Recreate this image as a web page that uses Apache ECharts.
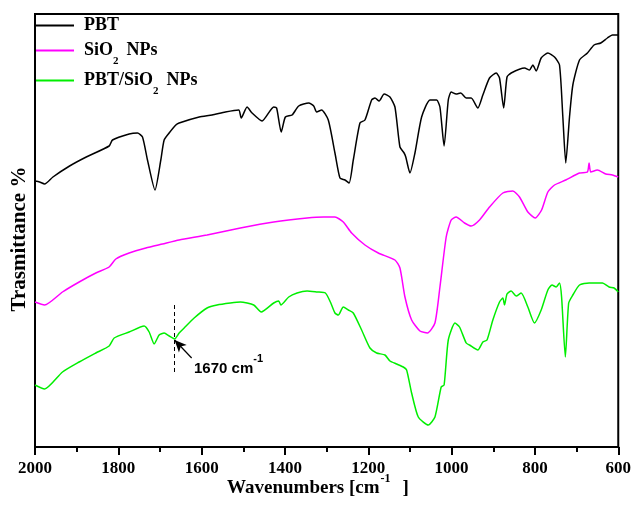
<!DOCTYPE html>
<html>
<head>
<meta charset="utf-8">
<script src="https://cdn.jsdelivr.net/npm/echarts@6/dist/echarts.min.js"></script>
<style>
html, body { margin: 0; padding: 0; background: #fff; }
#chart { width: 634px; height: 507px; }
</style>
</head>
<body>
<div id="chart"></div>
<script>
// FTIR spectra, transmittance in arbitrary units (offset curves)
const xTicks = [2000, 1800, 1600, 1400, 1200, 1000, 800, 600];

// PBT
const pbtWn = [2000,1989,1977,1957,1917,1877,1822,1814,1774,1754,1742,1730,1712,1698,1690,1678,1662,1654,1606,1575,1543,1511,1505,1491,1479,1455,1427,1420,1409,1399,1383,1367,1343,1331,1324,1312,1296,1280,1268,1256,1246,1236,1220,1208,1192,1184,1174,1162,1148,1136,1124,1114,1110,1100,1088,1072,1052,1036,1028,1018,1008,1001,989,978,965,953,937,925,909,893,885,875,867,857,825,813,805,797,785,769,753,741,733,726,717,709,693,674,658,642,626,614,600];
const pbtT = [266,265,263,270,281,290,301,307,313,314,310,287,257,287,307,314,322,324,330,332,335,337,329,340,334,326,340,339,315,330,332,341,344,341,335,337,327,294,269,267,264,287,324,327,347,349,346,353,350,340,300,294,290,274,294,330,347,347,340,301,347,355,353,354,349,349,339,352,369,374,369,339,370,374,379,377,382,376,389,394,390,382,330,284,330,362,387,394,402,404,409,412,412];

// SiO2 NPs
const sioWn = [2000,1977,1934,1894,1854,1822,1806,1774,1734,1694,1654,1587,1507,1427,1347,1307,1280,1260,1240,1208,1176,1136,1124,1112,1096,1076,1058,1040,1028,1013,1001,989,969,953,933,909,877,853,837,817,799,784,769,753,726,693,674,670,666,650,630,614,600];
const sioT = [145,142,155,165,174,180,188,194,199,203,207,212,219,225,229,230,230,225,214,202,194,187,179,150,127,116,114,124,160,210,227,230,224,221,227,240,254,256,250,235,229,237,255,262,267,274,275,284,275,277,273,272,270];

// PBT/SiO2 NPs
const mixWn = [2000,1977,1934,1894,1854,1822,1810,1774,1738,1726,1714,1702,1690,1678,1665,1654,1642,1618,1587,1563,1531,1507,1475,1457,1427,1415,1410,1391,1371,1347,1323,1303,1291,1280,1272,1260,1248,1236,1216,1196,1180,1160,1148,1132,1116,1108,1096,1080,1056,1040,1025,1018,1008,992,981,965,957,937,925,915,901,885,877,873,867,857,845,833,817,801,785,769,759,749,741,736,727,719,709,693,670,638,622,610,600];
const mixT = [62,58,75,85,94,101,109,115,121,115,103,112,114,111,108,114,119,129,139,142,144,145,142,135,144,146,142,150,154,156,155,154,145,134,132,140,137,134,117,99,94,92,86,83,80,77,54,30,22,30,60,62,107,124,120,104,102,97,105,107,127,145,149,142,153,156,151,154,140,124,137,157,162,160,164,150,90,144,152,162,164,164,160,159,155];

const seriesNames = ['PBT', 'SiO2 NPs', 'PBT/SiO2 NPs'];
const seriesColors = ['#000000', '#ff00ff', '#00ee00'];

// annotation (dashed marker + arrow)
const markWn = 1665;
const arrowFrom = [1624, 89];
const arrowTo = [1665, 107];

const serif = '"Liberation Serif", "Times New Roman", serif';
const sans = '"Liberation Sans", Arial, sans-serif';
const zip = (xs, ys) => xs.map((x, i) => [x, ys[i]]);

const chart = echarts.init(document.getElementById('chart'));

const legendRich = {
  b: { fontFamily: serif, fontWeight: 'bold', fontSize: 18, lineHeight: 33, verticalAlign: 'middle', color: '#000' },
  s: { fontFamily: serif, fontWeight: 'bold', fontSize: 11, lineHeight: 11, verticalAlign: 'bottom', padding: [0, 8, 0, 0], color: '#000' }
};
function legendFmt(name) {
  // "2" becomes a subscript, the space after it is carried by the padding
  return name.split('2 ').map(p => '{b|' + p + '}').join('{s|2}');
}
const legendTops = [16.5, 41.5, 71.5];

var option = {
  animation: false,
  backgroundColor: '#fff',
  grid: {
    left: 35, right: 14.5, top: 14, bottom: 60,
    show: true, borderColor: '#000', borderWidth: 2
  },
  legend: seriesNames.map((n, i) => ({
    data: [n],
    left: 35,
    top: legendTops[i],
    padding: 0,
    itemWidth: 38,
    itemHeight: 14,
    itemStyle: { opacity: 0 },
    formatter: legendFmt,
    textStyle: { padding: [0, 0, 0, 5], rich: legendRich }
  })),
  xAxis: {
    type: 'value',
    min: 600, max: 2000, interval: 200,
    inverse: true,
    axisLine: { show: true, onZero: false, lineStyle: { color: '#000', width: 2 } },
    axisTick: { show: true, inside: false, length: 8, lineStyle: { color: '#000', width: 2 } },
    minorTick: { show: true, splitNumber: 2, length: 5, lineStyle: { color: '#000', width: 2 } },
    axisLabel: {
      color: '#000', fontFamily: serif, fontWeight: 'bold', fontSize: 17, margin: 13,
      formatter: v => (xTicks.indexOf(v) >= 0 ? String(v) : '')
    },
    splitLine: { show: false }
  },
  yAxis: {
    type: 'value', min: 0, max: 433,
    axisLine: { show: true, lineStyle: { color: '#000', width: 2 } },
    axisTick: { show: false },
    axisLabel: { show: false },
    splitLine: { show: false }
  },
  series: [
    {
      name: seriesNames[0], type: 'line', symbol: 'none', smooth: 0.2,
      lineStyle: { color: seriesColors[0], width: 1.5 }, itemStyle: { color: seriesColors[0] },
      data: zip(pbtWn, pbtT)
    },
    {
      name: seriesNames[1], type: 'line', symbol: 'none', smooth: 0.2,
      lineStyle: { color: seriesColors[1], width: 1.5 }, itemStyle: { color: seriesColors[1] },
      data: zip(sioWn, sioT)
    },
    {
      name: seriesNames[2], type: 'line', symbol: 'none', smooth: 0.2,
      lineStyle: { color: seriesColors[2], width: 1.5 }, itemStyle: { color: seriesColors[2] },
      data: zip(mixWn, mixT),
      markLine: {
        silent: true,
        animation: false,
        symbol: ['none', 'none'],
        label: { show: false },
        lineStyle: { color: '#000', width: 1, type: [4, 3] },
        data: [
          [{ coord: [markWn, 75] }, { coord: [markWn, 144] }],
          [
            { coord: arrowFrom, lineStyle: { type: 'solid', width: 1.2, color: '#000' } },
            { coord: arrowTo, symbol: 'arrow', symbolSize: [8, 12] }
          ]
        ]
      }
    }
  ],
  graphic: [
    {
      type: 'text', x: 19.3, y: 239, rotation: Math.PI / 2,
      style: {
        text: 'Trasmittance %', fill: '#000', align: 'center', verticalAlign: 'middle',
        font: 'bold 21px ' + serif
      }
    },
    {
      type: 'text', x: 318, y: 488.5,
      style: {
        text: '{a|Wavenumbers [cm}{s|-1}{a|]}', align: 'center', verticalAlign: 'middle',
        rich: {
          a: { fontFamily: serif, fontWeight: 'bold', fontSize: 19, lineHeight: 32, verticalAlign: 'middle', fill: '#000' },
          s: { fontFamily: serif, fontWeight: 'bold', fontSize: 12, lineHeight: 12, verticalAlign: 'top', padding: [0, 12, 0, 1], fill: '#000' }
        }
      }
    },
    {
      type: 'text', x: 194, y: 368.7,
      style: {
        text: '{a|1670 cm}{s|-1}', align: 'left', verticalAlign: 'middle',
        rich: {
          a: { fontFamily: sans, fontWeight: 'bold', fontSize: 15, lineHeight: 31, verticalAlign: 'middle', fill: '#000' },
          s: { fontFamily: sans, fontWeight: 'bold', fontSize: 11, lineHeight: 11, verticalAlign: 'top', fill: '#000' }
        }
      }
    }
  ]
};

chart.setOption(option);
</script>
</body>
</html>
